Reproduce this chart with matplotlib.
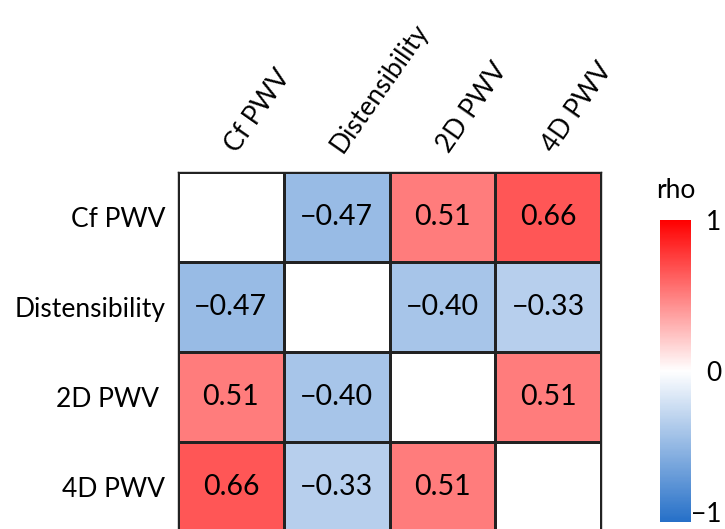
import numpy as np
import matplotlib
matplotlib.use("Agg")
import matplotlib.pyplot as plt
from matplotlib.colors import LinearSegmentedColormap, Normalize

plt.rcParams['font.family'] = ['Lato', 'DejaVu Sans']

labels = ["Cf PWV", "Distensibility", "2D PWV", "4D PWV"]
row_labels = ["Cf PWV", "Distensibility", "2D PWV ", "4D PWV"]
rho = np.array([
    [np.nan, -0.47, 0.51, 0.66],
    [-0.47, np.nan, -0.40, -0.33],
    [0.51, -0.40, np.nan, 0.51],
    [0.66, -0.33, 0.51, np.nan],
])
cbar_ticks = [-1, 0, 1]
cbar_ticklabels = ["\u22121", "0", "1"]

cmap = LinearSegmentedColormap.from_list(
    "bwr_custom", [(0.0, (38/255, 112/255, 200/255)), (0.5, (1, 1, 1)), (1.0, (1, 0, 0))])
cmap.set_bad("white")
norm = Normalize(vmin=-1, vmax=1)

W, H = 725, 529
fig = plt.figure(figsize=(W/100, H/100), dpi=100)
ax = fig.add_axes([178/W, 1 - 532/H, 423/W, 360/H])

n = len(labels)
data = np.ma.masked_invalid(rho)
ax.pcolormesh(np.arange(n + 1), np.arange(n + 1), data, cmap=cmap, norm=norm,
              edgecolors="#222222", linewidth=1.0)
ax.set_xlim(0, n)
ax.set_ylim(n, 0)
for i in range(n):
    for j in range(n):
        if not np.isnan(rho[i, j]):
            ax.text(j + 0.5, i + 0.5, f"{rho[i, j]:.2f}".replace("-", "\u2212"),
                    ha="center", va="center", fontsize=20.5, color="black")

ax.set_xticks(np.arange(n) + 0.5)
ax.set_xticklabels(labels, rotation=55, ha="left", va="center",
                   rotation_mode="anchor", fontsize=19)
ax.xaxis.tick_top()
ax.set_yticks(np.arange(n) + 0.5)
ax.set_yticklabels(row_labels, fontsize=19)
ax.tick_params(axis="both", length=0)
ax.tick_params(axis="x", pad=16)
ax.tick_params(axis="y", pad=9)
for s in ax.spines.values():
    s.set_color("#222222")
    s.set_linewidth(1.0)

cax = fig.add_axes([660/W, 1 - 522/H, 31/W, 302/H])
sm = matplotlib.cm.ScalarMappable(norm=norm, cmap=cmap)
cb = fig.colorbar(sm, cax=cax, ticks=cbar_ticks)
cb.outline.set_visible(False)
cb.ax.set_yticklabels(cbar_ticklabels, fontsize=19)
cb.ax.tick_params(length=0, pad=22)
tls = cb.ax.get_yticklabels()
for t in tls:
    t.set_ha("right")
tls[0].set_va("baseline")
cb.ax.set_title("rho", fontsize=19, pad=16)

fig.savefig("out.png", dpi=100)
